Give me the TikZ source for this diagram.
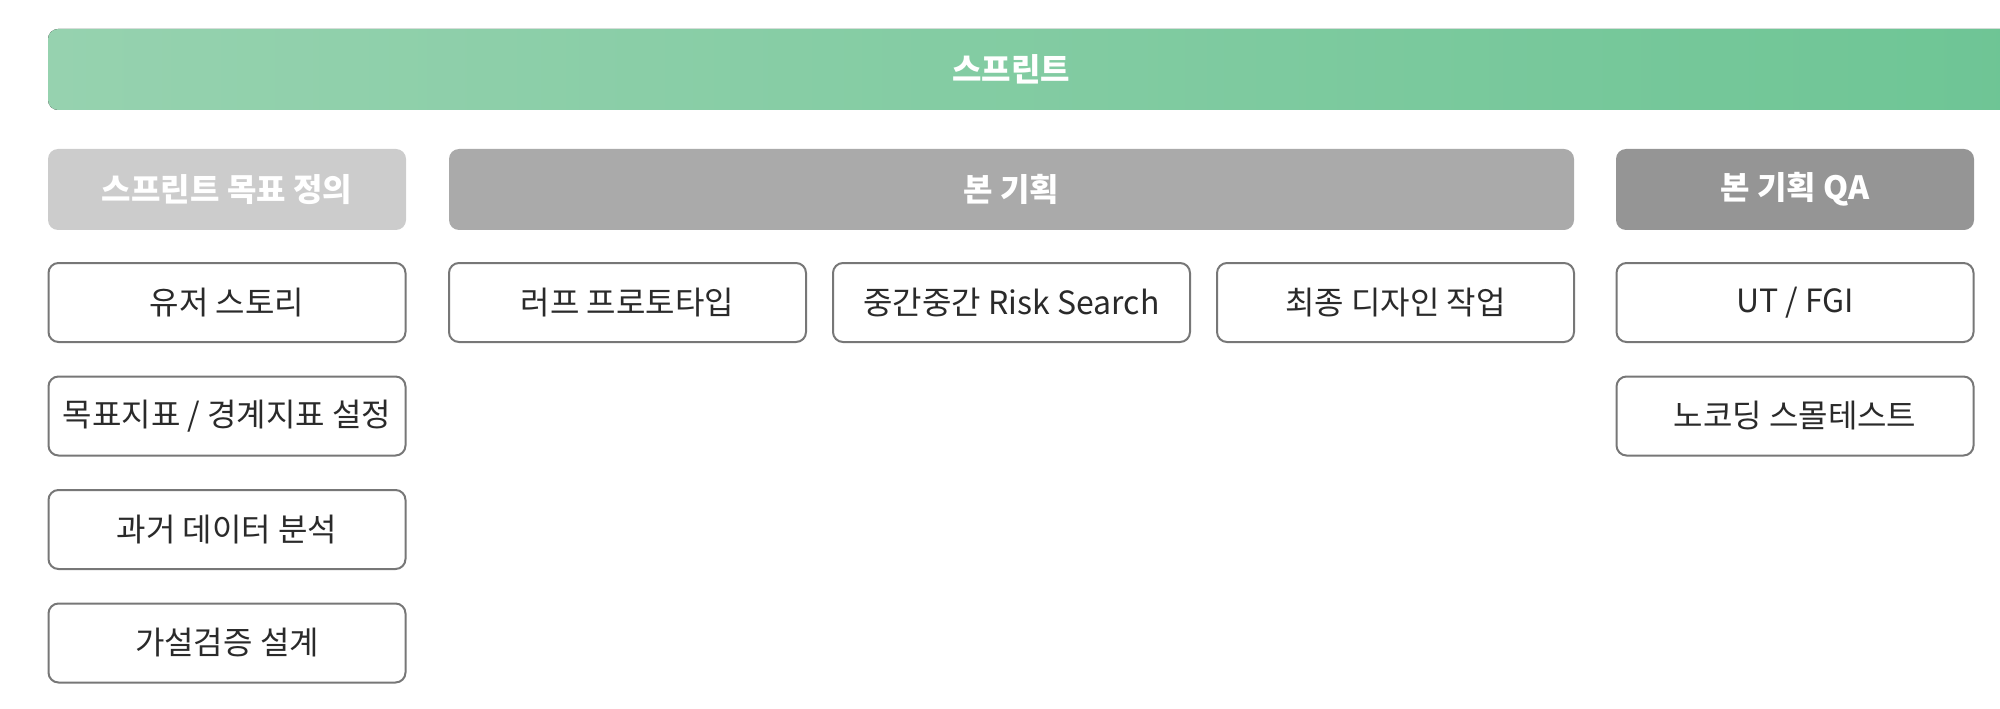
\documentclass[tikz,border=0pt]{standalone}
\usepackage{fontspec}
\setmainfont{Noto Sans CJK KR}
\usetikzlibrary{positioning}
\definecolor{sprintL}{HTML}{96D2AF}
\definecolor{sprintR}{HTML}{6EC595}
\definecolor{headA}{HTML}{CCCCCC}
\definecolor{headB}{HTML}{AAAAAA}
\definecolor{headC}{HTML}{959595}
\definecolor{boxline}{HTML}{777777}
\definecolor{boxtext}{HTML}{2A2A2A}

\begin{document}
\begin{tikzpicture}[x=0.5pt,y=0.5pt,
    head/.style={rounded corners=5pt,minimum height=40.5pt,minimum width=179pt,text=white,font=\fontsize{16}{19}\selectfont\bfseries,inner sep=0pt},
    task/.style={draw=boxline,line width=1pt,rounded corners=5pt,fill=white,minimum height=39.5pt,minimum width=178.5pt,text=boxtext,font=\fontsize{16}{19}\selectfont,inner sep=0pt},
    node distance=16.25pt]
				\useasboundingbox (0,0) rectangle (2000,708);
				\fill [left color=sprintL,right color=sprintR,rounded corners=5pt] (48,598) rectangle (2020,679); \node (sprint) [text=white,font=\fontsize{16}{19}\selectfont\bfseries] at (1011,638.5) {스프린트};
				\node (goal) [head,fill=headA] at (227,518.5) {스프린트 목표 정의}; \node (main) [head,fill=headB,minimum width=562.5pt] at (1011.5,518.5) {본 기획}; \node (qa) [head,fill=headC] at (1795,518.5) {본 기획 QA};
				\node (story) [task] at (227,405.5) {유저 스토리}; \node (metric) [task,below=of story] {목표지표 / 경계지표 설정};
				\node (past) [task,below=of metric] {과거 데이터 분석}; \node (hypo) [task,below=of past] {가설검증 설계};
				\node (rough) [task] at (627.5,405.5) {러프 프로토타입}; \node (risk) [task] at (1011.5,405.5) {중간중간 Risk Search}; \node (design) [task] at (1395.5,405.5) {최종 디자인 작업};
				\node (ut) [task] at (1795,405.5) {UT / FGI}; \node (nocode) [task,below=of ut] {노코딩 스몰테스트};
			\end{tikzpicture}
\end{document}
